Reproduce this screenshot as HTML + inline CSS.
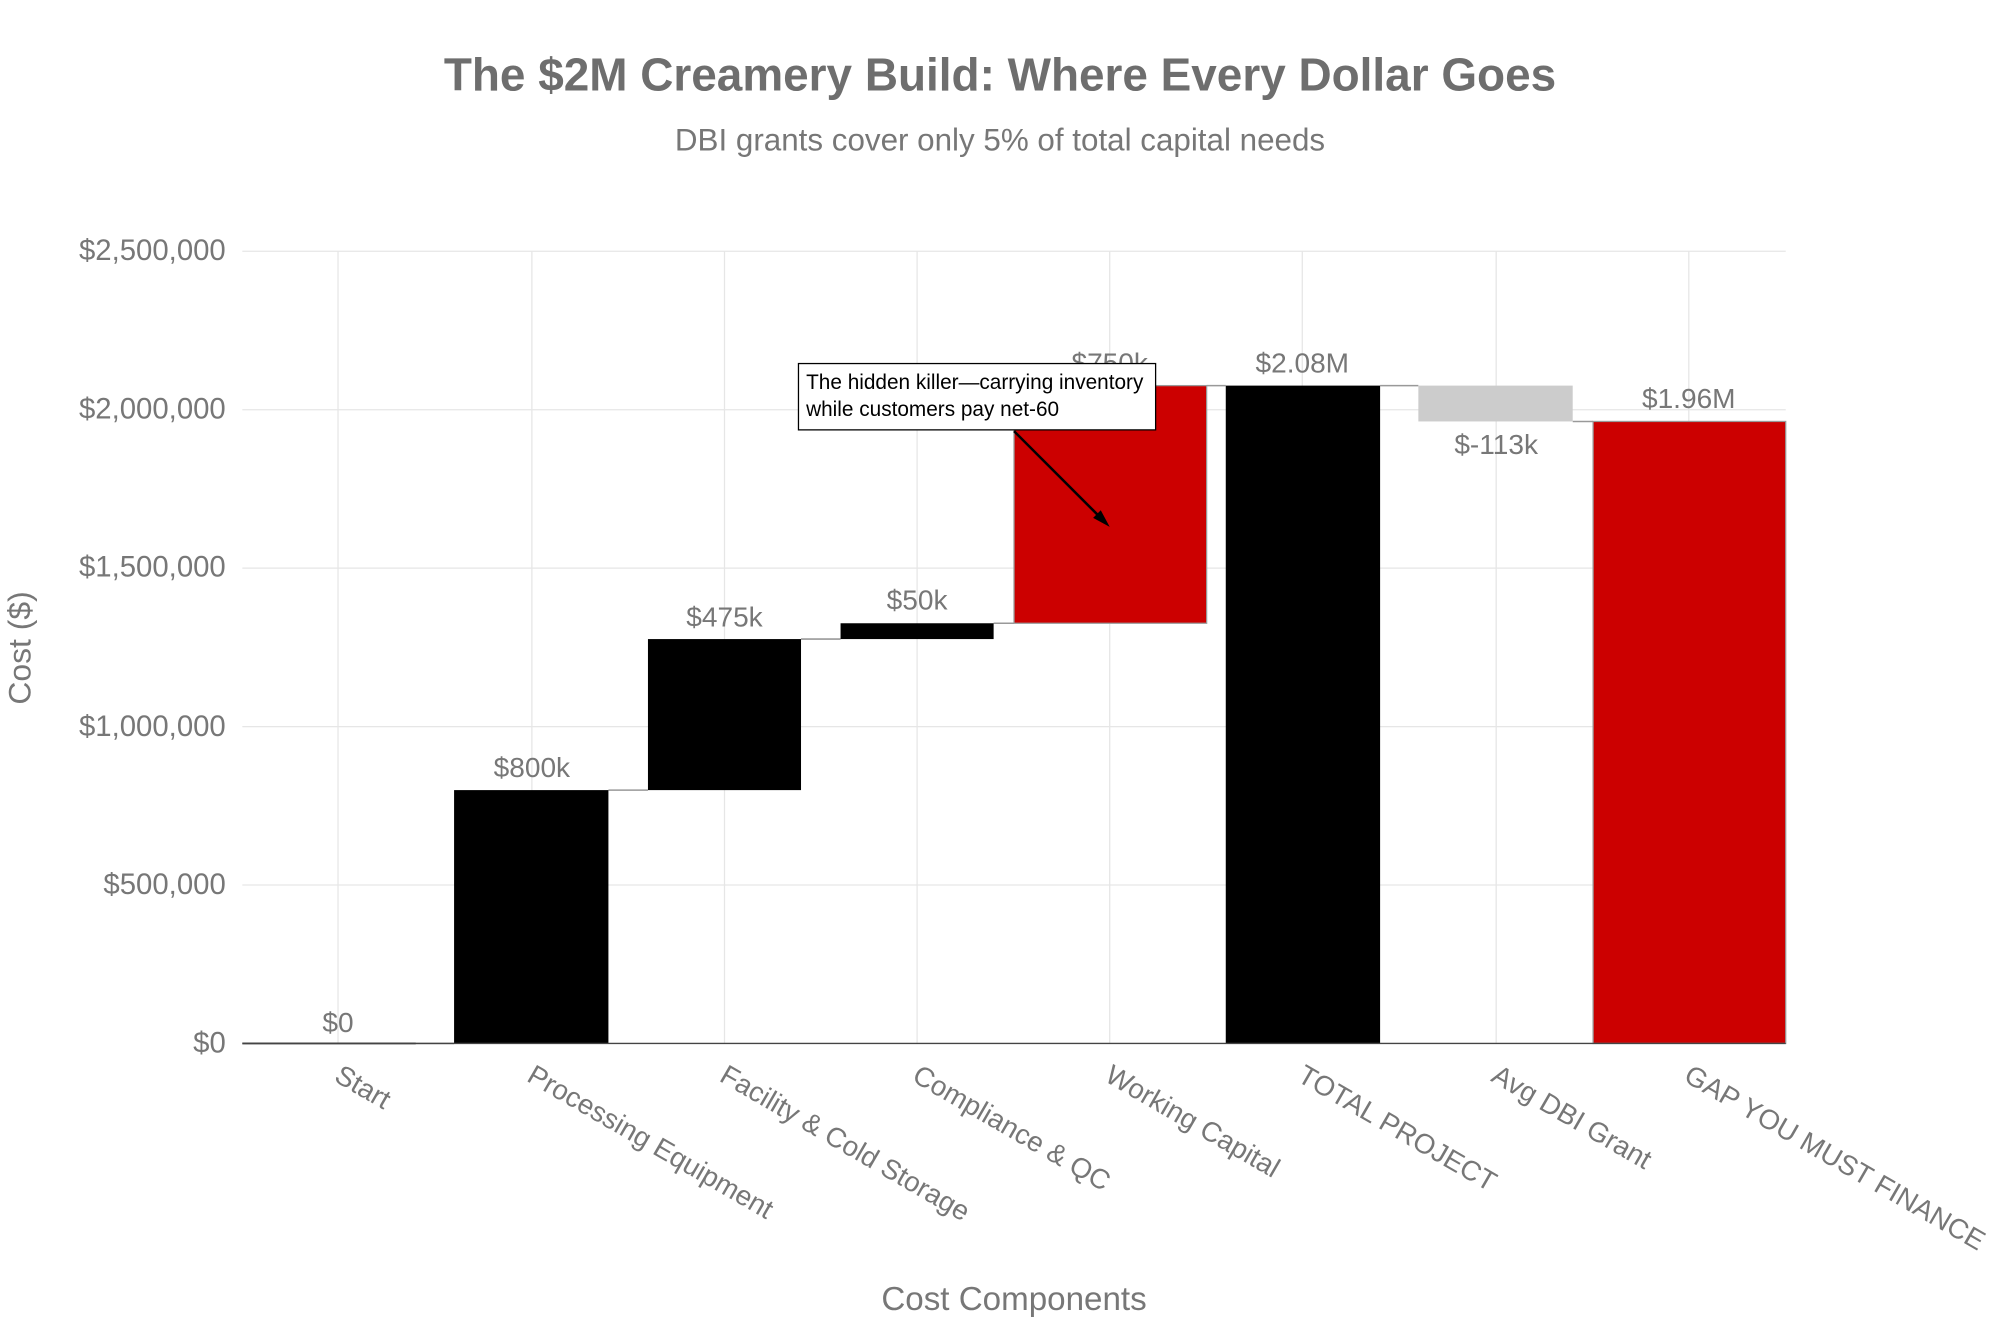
<!DOCTYPE html>
<html><head><meta charset="utf-8"><style>html,body{margin:0;padding:0;background:#fff}svg{display:block}</style></head>
<body>
<svg width="2000" height="1333" viewBox="0 0 1568 1045" preserveAspectRatio="none" xmlns="http://www.w3.org/2000/svg" font-family="Liberation Sans, sans-serif">
<rect width="1568" height="1045" fill="#fff"/>
<text x="784" y="71" text-anchor="middle" font-size="36" font-weight="bold" fill="#6e6e6e">The $2M Creamery Build: Where Every Dollar Goes</text>
<text x="784" y="118" text-anchor="middle" font-size="24.6" fill="#777">DBI grants cover only 5% of total capital needs</text>
<g stroke="#e6e6e6" stroke-width="1">
<line x1="190" x2="1400" y1="197" y2="197"/><line x1="190" x2="1400" y1="321.2" y2="321.2"/><line x1="190" x2="1400" y1="445.4" y2="445.4"/><line x1="190" x2="1400" y1="569.6" y2="569.6"/><line x1="190" x2="1400" y1="693.8" y2="693.8"/>
<line x1="265" x2="265" y1="197" y2="818"/><line x1="417" x2="417" y1="197" y2="818"/><line x1="568" x2="568" y1="197" y2="818"/><line x1="719" x2="719" y1="197" y2="818"/><line x1="870" x2="870" y1="197" y2="818"/><line x1="1021" x2="1021" y1="197" y2="818"/><line x1="1173" x2="1173" y1="197" y2="818"/><line x1="1324" x2="1324" y1="197" y2="818"/>
</g>
<g font-size="23" fill="#777" text-anchor="end">
<text x="177" y="204">$2,500,000</text><text x="177" y="328">$2,000,000</text><text x="177" y="452">$1,500,000</text><text x="177" y="577">$1,000,000</text><text x="177" y="701">$500,000</text><text x="177" y="825">$0</text>
</g>
<g stroke="#999" stroke-width="1.2">
<line x1="326" x2="356" y1="818" y2="818"/><line x1="477" x2="508" y1="619.4" y2="619.4"/><line x1="628" x2="659" y1="501" y2="501"/><line x1="779" x2="795" y1="488.6" y2="488.6"/><line x1="946" x2="961" y1="302.3" y2="302.3"/><line x1="1082" x2="1112" y1="302.3" y2="302.3"/><line x1="1233" x2="1249" y1="330.4" y2="330.4"/>
</g>
<line x1="190" x2="326" y1="818" y2="818" stroke="#444" stroke-width="1.5"/>
<rect x="356" y="619.4" width="121" height="198.6" fill="#000"/>
<rect x="508" y="501" width="120" height="118.4" fill="#000"/>
<rect x="659" y="488.6" width="120" height="12.4" fill="#000"/>
<rect x="795" y="302.3" width="151" height="186.3" fill="#cc0000" stroke="#999" stroke-width="1"/>
<rect x="961" y="302.3" width="121" height="515.7" fill="#000"/>
<rect x="1112" y="302.3" width="121" height="28.1" fill="#cccccc"/>
<rect x="1249" y="330.4" width="151" height="487.6" fill="#cc0000" stroke="#999" stroke-width="1"/>
<line x1="190" x2="1400" y1="818" y2="818" stroke="#444" stroke-width="1"/>
<g font-size="22" fill="#777" text-anchor="middle">
<text x="265" y="809">$0</text><text x="417" y="609">$800k</text><text x="568" y="491">$475k</text><text x="719" y="478">$50k</text><text x="870" y="292">$750k</text><text x="1021" y="292">$2.08M</text><text x="1173" y="356">$-113k</text><text x="1324" y="320">$1.96M</text>
</g>
<line x1="795" y1="338" x2="864" y2="407" stroke="#000" stroke-width="2"/>
<polygon points="870,413 857,406 863,400" fill="#000"/>
<rect x="626" y="285" width="280" height="52" fill="#fff" stroke="#000" stroke-width="1"/>
<text x="632" y="305" font-size="16.3" fill="#000">The hidden killer—carrying inventory</text>
<text x="632" y="326" font-size="16.3" fill="#000">while customers pay net-60</text>
<g font-size="21.8" fill="#777">
<text transform="translate(261,847) rotate(30)">Start</text>
<text transform="translate(412,847) rotate(30)">Processing Equipment</text>
<text transform="translate(563,847) rotate(30)">Facility &amp; Cold Storage</text>
<text transform="translate(714,847) rotate(30)">Compliance &amp; QC</text>
<text transform="translate(865,847) rotate(30)">Working Capital</text>
<text transform="translate(1016,847) rotate(30)">TOTAL PROJECT</text>
<text transform="translate(1168,847) rotate(30)">Avg DBI Grant</text>
<text transform="translate(1319,847) rotate(30)">GAP YOU MUST FINANCE</text>
</g>
<text x="795" y="1027" text-anchor="middle" font-size="26" fill="#777">Cost Components</text>
<text transform="translate(24,508) rotate(-90)" text-anchor="middle" font-size="25" fill="#777">Cost ($)</text>
</svg>
</body></html>
